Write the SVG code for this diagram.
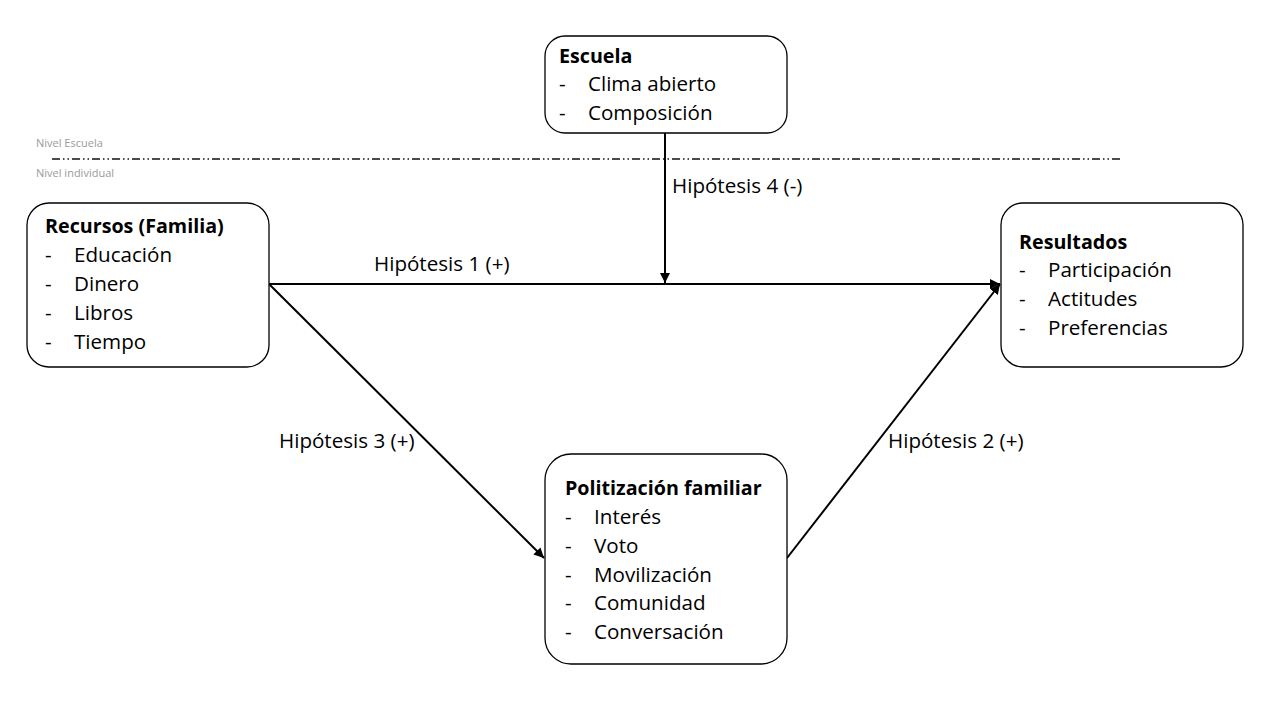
<svg xmlns="http://www.w3.org/2000/svg" width="1280" height="720" viewBox="0 0 1280 720">
<style>
.box{fill:#fff;stroke:#000;stroke-width:1.3}
text{font-family:"Open Sans","Liberation Sans",sans-serif;font-size:20.6px;fill:#000}
.t{font-weight:bold;font-size:19.7px}
.lvl{font-size:11px;fill:#9a9a9a}
.c{stroke:#000;stroke-width:2;fill:none}
</style>
<defs>
<marker id="ah" viewBox="0 0 10 10" refX="10" refY="5" markerWidth="5" markerHeight="5" orient="auto" markerUnits="strokeWidth">
<path d="M0,0 L10,5 L0,10 z" fill="#000"/>
</marker>
</defs>
<rect width="1280" height="720" fill="#fff"/>
<g id="level-labels">
<text class="lvl" x="36" y="147">Nivel Escuela</text>
<text class="lvl" x="36" y="177">Nivel individual</text>
<line x1="52" y1="159" x2="1122" y2="159" stroke="#111" stroke-width="1.3" stroke-dasharray="8 3 1.5 3 1.5 3"/>
</g>
<g id="connectors">
<line class="c" x1="269" y1="284" x2="1000" y2="284" marker-end="url(#ah)"/>
<line class="c" x1="665" y1="133" x2="665" y2="283" marker-end="url(#ah)"/>
<line class="c" x1="269" y1="284" x2="544" y2="558" marker-end="url(#ah)"/>
<line class="c" x1="787" y1="558" x2="1000" y2="284" marker-end="url(#ah)"/>
<text x="672" y="193">Hipótesis 4 (-)</text>
<text x="374" y="271">Hipótesis 1 (+)</text>
<text x="279" y="448">Hipótesis 3 (+)</text>
<text x="888" y="448">Hipótesis 2 (+)</text>
</g>
<g id="escuela">
<rect class="box" x="545" y="36" width="242" height="97" rx="20"/>
<text class="t" x="559" y="63">Escuela</text>
<text x="559" y="91">-</text><text x="588" y="91">Clima abierto</text>
<text x="559" y="120">-</text><text x="588" y="120">Composición</text>
</g>
<g id="recursos">
<rect class="box" x="27" y="203" width="242" height="164" rx="22"/>
<text class="t" x="45" y="233">Recursos (Familia)</text>
<text x="45" y="262">-</text><text x="74" y="262">Educación</text>
<text x="45" y="291">-</text><text x="74" y="291">Dinero</text>
<text x="45" y="320">-</text><text x="74" y="320">Libros</text>
<text x="45" y="349">-</text><text x="74" y="349">Tiempo</text>
</g>
<g id="resultados">
<rect class="box" x="1001" y="203" width="242" height="164" rx="22"/>
<text class="t" x="1019" y="249">Resultados</text>
<text x="1019" y="277">-</text><text x="1048" y="277">Participación</text>
<text x="1019" y="306">-</text><text x="1048" y="306">Actitudes</text>
<text x="1019" y="335">-</text><text x="1048" y="335">Preferencias</text>
</g>
<g id="politizacion">
<rect class="box" x="545" y="454" width="242" height="210" rx="26"/>
<text class="t" x="565" y="495">Politización familiar</text>
<text x="565" y="524">-</text><text x="594" y="524">Interés</text>
<text x="565" y="553">-</text><text x="594" y="553">Voto</text>
<text x="565" y="582">-</text><text x="594" y="582">Movilización</text>
<text x="565" y="610">-</text><text x="594" y="610">Comunidad</text>
<text x="565" y="639">-</text><text x="594" y="639">Conversación</text>
</g>
</svg>
